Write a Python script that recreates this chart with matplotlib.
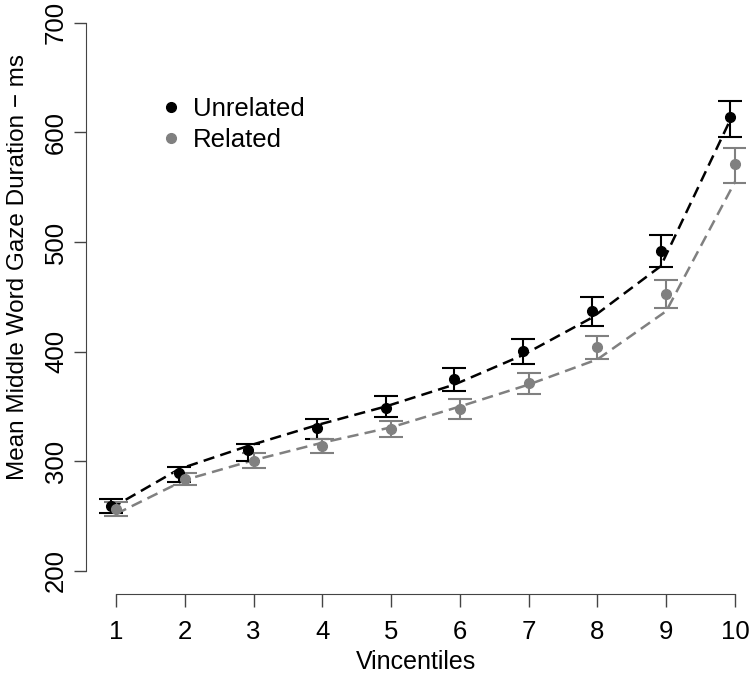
import matplotlib.pyplot as plt
from matplotlib.lines import Line2D
import numpy as np

plt.rcParams['font.family'] = ['Liberation Sans', 'DejaVu Sans']

vincentiles = [1, 2, 3, 4, 5, 6, 7, 8, 9, 10]

# observed means and error bar limits
unrelated_mean = [259, 289.5, 310, 330, 349, 375, 401, 437, 492, 614]
unrelated_lo = [253, 281.5, 300.5, 320.5, 340, 364, 389, 423, 477, 596]
unrelated_hi = [265.5, 294.5, 316, 339, 359.5, 385, 411.5, 450, 506.5, 629]
related_mean = [256.5, 283.5, 300.5, 314, 329.5, 348, 371, 404.5, 452.5, 571]
related_lo = [250, 278, 293.5, 307.5, 322, 339, 361.5, 393, 439.5, 554]
related_hi = [263, 289, 307.5, 320.5, 337, 357, 380.5, 414.5, 465, 585.5]

# fitted (dashed) values
unrelated_fit = [257, 293, 314, 333, 350, 370, 397, 431, 478, 610]
related_fit = [252, 283, 301, 317, 331, 350, 370, 393, 437, 555]

grey = '#808080'

fig = plt.figure(figsize=(7.52, 6.74), dpi=100)
ax = fig.add_axes([0.1144, 0.1187, 0.8763, 0.859])

x = np.array(vincentiles)
xu = x - 0.08
xr = x

ax.plot(xu, unrelated_fit, color='black', lw=1.8, linestyle=(0, (4.5, 2.5)))
ax.plot(xr, related_fit, color=grey, lw=1.8, linestyle=(0, (4.5, 2.5)))

um = np.array(unrelated_mean)
rm = np.array(related_mean)
ax.errorbar(xu, um, yerr=[um - np.array(unrelated_lo), np.array(unrelated_hi) - um],
            fmt='o', color='black', ms=7, elinewidth=1.5, capsize=8.5, capthick=1.5)
ax.errorbar(xr, rm, yerr=[rm - np.array(related_lo), np.array(related_hi) - rm],
            fmt='o', color=grey, ms=7, elinewidth=1.5, capsize=8.5, capthick=1.5)

ax.set_xlim(0.564, 10.145)
ax.set_ylim(179, 707)

for s in ['top', 'right']:
    ax.spines[s].set_visible(False)
ax.spines['left'].set_bounds(200, 700)
ax.spines['bottom'].set_bounds(1, 10)
ax.spines['left'].set_color('#444444')
ax.spines['bottom'].set_color('#444444')

ax.set_xticks(vincentiles)
ax.set_yticks([200, 300, 400, 500, 600, 700])
ax.tick_params(axis='both', length=9, width=1, colors='#444444', labelcolor='black',
               labelsize=18.5)
ax.tick_params(axis='x', pad=10)
ax.tick_params(axis='y', pad=4)
plt.setp(ax.get_yticklabels(), rotation=90, va='center')

ax.set_xlabel('Vincentiles', fontsize=18)
ax.xaxis.set_label_coords(0.5, -0.097)
ax.set_ylabel('Mean Middle Word Gaze Duration \u2212 ms', fontsize=17.5)
ax.yaxis.set_label_coords(-0.086, 0.565)

handles = [Line2D([], [], marker='o', color='black', ls='none', ms=7),
           Line2D([], [], marker='o', color=grey, ls='none', ms=7)]
ax.legend(handles, ['Unrelated', 'Related'], loc='upper left',
          bbox_to_anchor=(0.075, 0.898), frameon=False, fontsize=18.5,
          handletextpad=0.35, labelspacing=0.28, handlelength=1.0)

fig.savefig('out.png', dpi=100)
